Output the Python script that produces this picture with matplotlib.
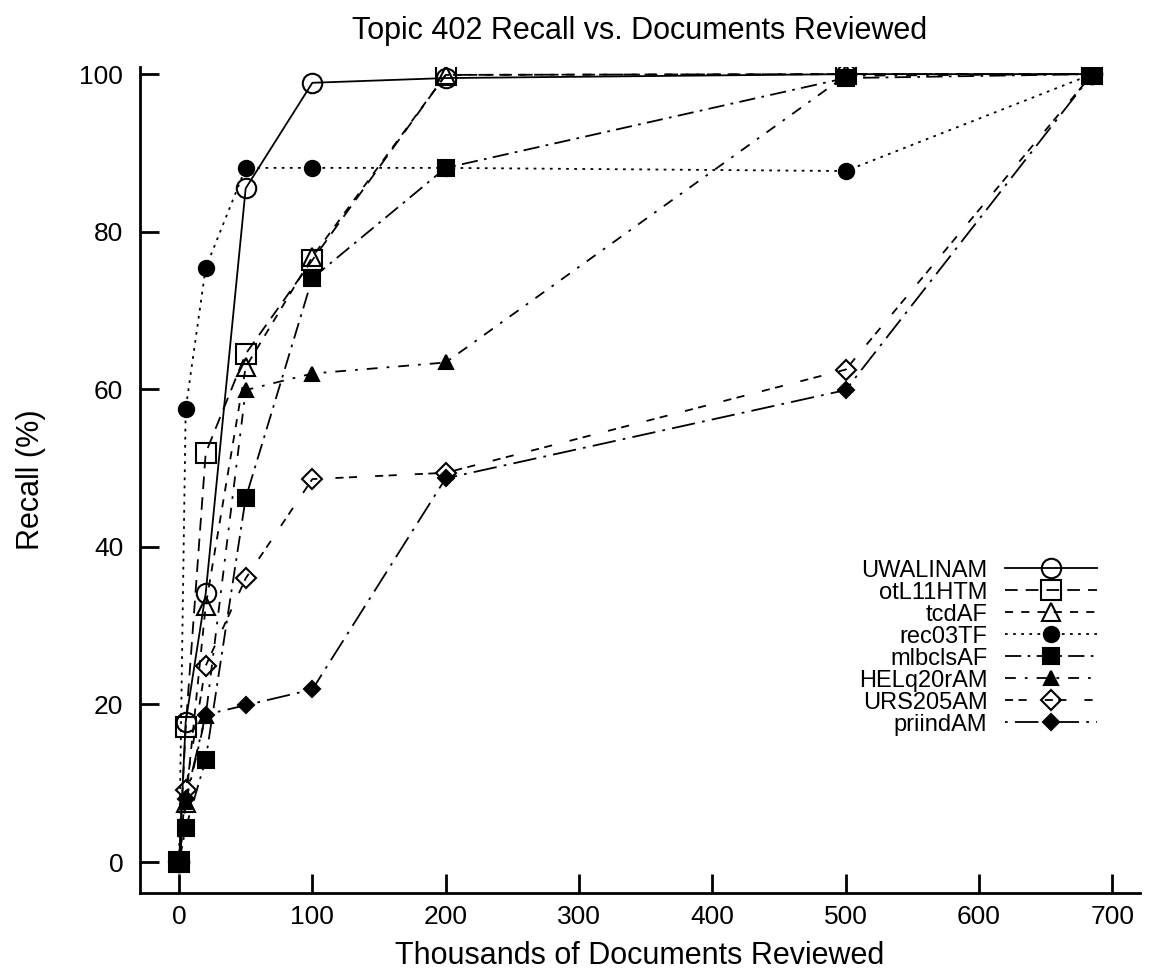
import matplotlib
matplotlib.use("Agg")
import matplotlib.pyplot as plt
import numpy as np

plt.rcParams["font.family"] = ["Liberation Sans", "DejaVu Sans"]

# thousands of documents reviewed
docs = [0, 5, 20, 50, 100, 200, 500, 685]

names = ["UWALINAM", "otL11HTM", "tcdAF", "rec03TF",
         "mlbclsAF", "HELq20rAM", "URS205AM", "priindAM"]

uwalinam = [0, 17.8, 34.1, 85.5, 98.9, 99.5, 100, 100]
otl11htm = [0, 17.1, 51.9, 64.5, 76.4, 99.9, 100, 100]
tcdaf = [0, 7.5, 32.5, 62.8, 76.8, 99.9, 100, 100]
rec03tf = [0, 57.5, 75.4, 88.1, 88.1, 88.1, 87.7, 100]
mlbclsaf = [0, 4.3, 13.0, 46.2, 74.1, 88.1, 99.5, 100]
helq20ram = [0, 7.6, 18.5, 59.9, 62.0, 63.4, 99.8, 100]
urs205am = [0, 9.2, 24.9, 36.0, 48.6, 49.4, 62.5, 100]
priindam = [0, 8.0, 18.7, 19.9, 21.9, 48.7, 59.9, 100]

recall = [uwalinam, otl11htm, tcdaf, rec03tf, mlbclsaf, helq20ram, urs205am, priindam]

# (marker, filled, markersize, linestyle) per run, gnuplot-ish look
styles = [
    ("o", False, 14, "-"),
    ("s", False, 14, (0, (7, 4.5))),
    ("^", False, 13, (0, (4.5, 4.5))),
    ("o", True, 11, (0, (1.5, 3))),
    ("s", True, 11, (0, (9, 3.5, 1.5, 3.5))),
    ("^", True, 10, (0, (6, 5, 1.5, 5))),
    ("D", False, 10, (0, (4.5, 3, 4.5, 10))),
    ("D", True, 8.5, (0, (1.5, 4, 13, 4))),
]

fig = plt.figure(figsize=(11.51, 9.8), dpi=100)
ax = fig.add_axes([0.1216, 0.0888, 0.8689, 0.8428])

for name, y, (mk, filled, ms, ls) in zip(names, recall, styles):
    ax.plot(docs, y, color="black", lw=1.3, linestyle=ls, marker=mk,
            markersize=ms, markeredgewidth=1.5,
            markerfacecolor="black" if filled else "none",
            markeredgecolor="black", label=name)

ax.set_xlim(-29.3, 720.8)
ax.set_ylim(-3.93, 100.9)
ax.set_xticks(np.arange(0, 701, 100))
ax.set_yticks(np.arange(0, 101, 20))

for s in ["top", "right"]:
    ax.spines[s].set_visible(False)
for s in ["left", "bottom"]:
    ax.spines[s].set_linewidth(2)

ax.tick_params(direction="in", length=14, width=2, labelsize=19)
ax.tick_params(axis="y", pad=12)
ax.tick_params(axis="x", pad=9)

ax.set_xlabel("Thousands of Documents Reviewed", fontsize=22, labelpad=8)
ax.set_ylabel("Recall (%)", fontsize=22, labelpad=24)
ax.set_title("Topic 402 Recall vs. Documents Reviewed", fontsize=22, pad=20)

# gnuplot-style key: labels right-aligned, samples on the right
ax.legend(loc="upper right", bbox_to_anchor=(0.969, 0.418), frameon=False,
          markerfirst=False, fontsize=17, handlelength=3.9,
          handletextpad=0.75, labelspacing=0.0, borderpad=0)

fig.savefig("out.png", dpi=100)
